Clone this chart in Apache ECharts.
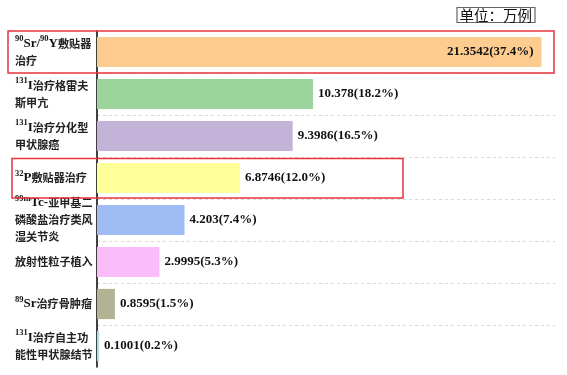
<!DOCTYPE html>
<html><head><meta charset="utf-8">
<script src="https://cdn.jsdelivr.net/npm/echarts@6/dist/echarts.min.js"></script>
<style>html,body{margin:0;padding:0;background:#fff}#c{width:567px;height:375px}</style>
</head><body><div id="c"></div>
<script>
var categories = ['90Sr/90Y敷贴器\n治疗', '131I治疗格雷夫\n斯甲亢', '131I治疗分化型\n甲状腺癌', '32P敷贴器治疗', '99mTc-亚甲基二\n磷酸盐治疗类风\n湿关节炎', '放射性粒子植入', '89Sr治疗骨肿瘤', '131I治疗自主功\n能性甲状腺结节'];
var values = [21.3542, 10.378, 9.3986, 6.8746, 4.203, 2.9995, 0.8595, 0.1001];
var percents = ['37.4%', '18.2%', '16.5%', '12.0%', '7.4%', '5.3%', '1.5%', '0.2%'];
var colors = ['#FFCC8F', '#9BD59B', '#C4B3D8', '#FFFF9A', '#9EBCF2', '#FBBDFA', '#B3B393', '#A8DCE6'];
var unitText = '单位：万例';

var serif = '"Liberation Serif", "Noto Sans CJK SC", serif';
var cjk = '"Noto Sans CJK SC", sans-serif';
function fmtCat(v) {
  return v.split('\n').map(function (line) {
    return line.replace(/(\d+m?)(?=[A-Z])|([A-Za-z\-\/]+)|([^\dA-Za-z\-\/]+)/g, function (m, sup, lat, han) {
      if (sup) return '{sup|' + sup + '}';
      if (lat) return '{b|' + lat + '}';
      return '{c|' + han + '}';
    });
  }).join('\n');
}

var chart = echarts.init(document.getElementById('c'), null, {renderer: 'canvas'});
var data = values.map(function (v, i) {
  var d = {value: v, itemStyle: {color: colors[i]}};
  if (i === 0) d.label = {position: 'insideRight', distance: 8};
  return d;
});
chart.setOption({
  animation: false,
  title: {
    text: unitText, right: 32, top: 7, padding: [1, 3, 0, 3],
    borderColor: '#666', borderWidth: 1.2,
    textStyle: {fontSize: 14.5, fontWeight: 'normal', color: '#111', fontFamily: cjk}
  },
  grid: {left: 97, right: 12, top: 31, bottom: 8, containLabel: false},
  xAxis: {type: 'value', min: 0, max: 22, show: false},
  yAxis: {
    type: 'category', data: categories, inverse: true,
    axisLine: {show: true, lineStyle: {color: '#000', width: 1.5}},
    axisTick: {show: false},
    splitLine: {show: true, showMinLine: false, showMaxLine: false, lineStyle: {type: [3, 3], color: '#d8d8d8', width: 1}},
    axisLabel: {
      align: 'left', margin: 82, lineHeight: 17, color: '#111',
      formatter: fmtCat,
      rich: {
        sup: {fontSize: 8.5, fontWeight: 'bold', fontFamily: serif, verticalAlign: 'top', lineHeight: 17, color: '#111', padding: [0, 0, 5, 0]},
        b: {fontSize: 13, fontWeight: 'bold', fontFamily: serif, lineHeight: 17, color: '#111'},
        c: {fontSize: 11.1, fontWeight: 'bold', fontFamily: cjk, lineHeight: 17, color: '#222'}
      }
    }
  },
  series: [{
    type: 'bar', data: data, barCategoryGap: '28%',
    label: {
      show: true, position: 'right', distance: 5,
      fontFamily: serif, fontWeight: 'bold', fontSize: 13, color: '#111',
      formatter: function (p) { return p.value + '(' + percents[p.dataIndex] + ')'; }
    }
  }]
});

function band(i) {
  var c = chart.convertToPixel({yAxisIndex: 0}, categories[i]);
  var h = chart.getModel().getComponent('yAxis', 0).axis.getBandWidth();
  return [c - h / 2, c + h / 2];
}
var b0 = band(0), b3 = band(3);
chart.setOption({
  graphic: [
    {type: 'rect', shape: {x: 8, y: b0[0], width: 546, height: b0[1] - b0[0]}, style: {fill: null, stroke: '#E8333D', lineWidth: 1.5}, z: 100},
    {type: 'rect', shape: {x: 12, y: b3[0] + 1.5, width: 391, height: b3[1] - b3[0] - 2.5}, style: {fill: null, stroke: '#E8333D', lineWidth: 1.5}, z: 100}
  ]
});
</script></body></html>
